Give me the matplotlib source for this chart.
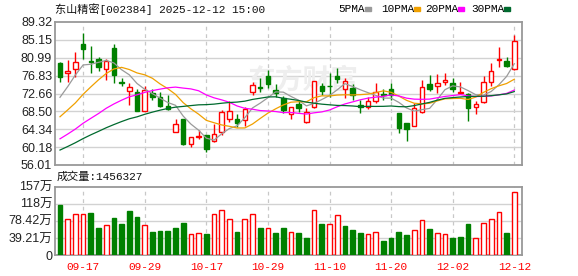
import numpy as np
import pandas as pd
import matplotlib
matplotlib.use('Agg')
import matplotlib.pyplot as plt
from matplotlib.patches import Rectangle

# trading days shown (2025)
dates = ['09-12', '09-15', '09-16', '09-17', '09-18', '09-19', '09-22', '09-23', '09-24', '09-25',
         '09-26', '09-29', '09-30', '10-09', '10-10', '10-13', '10-14', '10-15', '10-16', '10-17',
         '10-20', '10-21', '10-22', '10-23', '10-24', '10-27', '10-28', '10-29', '10-30', '10-31',
         '11-03', '11-04', '11-05', '11-06', '11-07', '11-10', '11-11', '11-12', '11-13', '11-14',
         '11-17', '11-18', '11-19', '11-20', '11-21', '11-24', '11-25', '11-26', '11-27', '11-28',
         '12-01', '12-02', '12-03', '12-04', '12-05', '12-08', '12-09', '12-10', '12-11', '12-12']

opens = [79.8, 77.4, 78.3, 84.2, 80.2, 80.6, 78.3, 83.3, 75.3, 73.2,
         73.1, 68.7, 72.7, 71.8, 69.8, 63.8, 66.7, 60.9, 62.5, 63.0,
         61.5, 63.8, 66.7, 66.7, 66.5, 73.1, 74.1, 76.7, 73.5, 71.6,
         67.9, 70.2, 66.1, 69.5, 74.4, 74.5, 76.7, 73.6, 74.0, 70.0,
         69.5, 70.9, 72.5, 73.6, 68.1, 65.7, 65.2, 68.4, 74.9, 74.3,
         75.3, 75.2, 72.7, 72.6, 69.6, 70.8, 75.3, 80.5, 80.2, 78.3]
highs = [80.0, 80.5, 82.3, 86.7, 83.7, 81.1, 80.6, 84.2, 76.2, 75.0,
         73.7, 74.3, 73.7, 72.9, 72.3, 66.7, 66.8, 62.6, 64.2, 63.1,
         65.6, 68.8, 70.9, 67.8, 69.6, 75.4, 76.2, 78.1, 74.9, 72.1,
         69.6, 71.2, 69.2, 75.6, 75.2, 77.4, 78.5, 76.2, 74.8, 71.2,
         71.9, 75.0, 73.6, 75.2, 68.2, 65.8, 70.4, 75.8, 77.0, 77.2,
         77.5, 76.2, 75.4, 72.7, 70.9, 76.7, 79.8, 83.4, 81.1, 86.3]
lows = [75.4, 75.4, 76.6, 80.7, 77.5, 78.0, 75.8, 75.0, 74.3, 70.0,
        68.6, 68.6, 71.2, 69.5, 68.8, 63.7, 60.7, 60.3, 62.0, 59.0,
        61.4, 63.0, 66.1, 64.9, 65.1, 72.3, 73.1, 73.9, 71.9, 68.1,
        66.7, 68.4, 65.9, 69.2, 72.3, 71.9, 75.0, 71.7, 71.2, 68.2,
        69.0, 70.5, 71.2, 71.2, 63.5, 61.7, 65.1, 68.2, 73.3, 72.7,
        74.7, 72.9, 72.6, 66.3, 67.9, 70.5, 74.3, 78.9, 78.9, 78.2]
closes = [76.6, 77.9, 79.9, 83.0, 80.0, 78.8, 80.2, 76.9, 75.1, 74.1,
          68.7, 73.5, 71.8, 69.8, 69.0, 65.5, 60.9, 62.5, 62.7, 59.7,
          63.2, 68.3, 68.6, 65.9, 69.1, 74.6, 73.9, 74.9, 72.7, 68.8,
          69.6, 69.4, 68.4, 75.6, 73.3, 74.3, 76.0, 75.6, 72.3, 69.5,
          70.9, 72.9, 72.4, 72.2, 64.6, 64.4, 69.2, 74.1, 73.7, 75.0,
          75.8, 73.6, 72.9, 69.4, 70.2, 75.4, 77.8, 80.7, 79.1, 85.0]
# closes before the window, only used for the moving averages
prior_closes = [53.0, 53.5, 54.2, 53.8, 54.5, 55.0, 54.6, 54.0, 54.8, 55.2,
                55.8, 56.5, 56.0, 57.2, 56.4, 55.6, 56.8, 57.5, 58.3,
                59.6, 62.0, 63.5, 63.0, 62.8,
                62.3, 65.5, 66.3, 71.35, 79.15]

# volume, in 万手
volumes = [114.8, 82.0, 94.1, 94.1, 97.1, 62.0, 68.1, 85.0, 71.2, 101.0,
           87.2, 68.1, 52.8, 55.1, 55.1, 61.3, 73.5, 47.5, 49.8, 47.5,
           93.4, 102.6, 82.0, 52.8, 82.0, 93.4, 62.0, 61.3, 50.5, 62.0,
           52.8, 50.5, 39.0, 102.6, 71.2, 70.4, 91.1, 66.6, 57.4, 50.5,
           47.5, 52.8, 32.1, 39.0, 52.8, 45.9, 57.4, 79.6, 59.7, 49.8,
           47.5, 39.0, 41.3, 71.2, 38.3, 72.7, 82.0, 98.7, 50.5, 145.6327]

ma_periods = [5, 10, 20, 30]
ma_names = ['5PMA', '10PMA', '20PMA', '30PMA']
ma_colors = ['#9a9a9a', '#f0a000', '#ff00ff', '#006a2e']

price_ticks = [56.01, 60.18, 64.34, 68.50, 72.66, 76.83, 80.99, 85.15, 89.32]
vol_ticks = [0, 39.21, 78.42, 117.63, 156.84]
vol_tick_labels = ['0', '39.21万', '78.42万', '118万', '157万']
date_labels = ['09-17', '09-29', '10-17', '10-29', '11-10', '11-20', '12-02', '12-12']

title = '东山精密[002384] 2025-12-12 15:00'
vol_title = '成交量:1456327'

RED = '#ff0000'
GREEN = '#008000'
GRID = '#d2d2d2'
FRAME = '#999999'
W, H = 578, 276

o = np.array(opens)
h = np.array(highs)
l = np.array(lows)
c = np.array(closes)
v = np.array(volumes)
x = np.arange(len(dates))

full = pd.Series(prior_closes + closes)
mas = [full.rolling(p).mean().to_numpy()[len(prior_closes):] for p in ma_periods]

fig = plt.figure(figsize=(W / 100, H / 100), dpi=100)
ax = fig.add_axes([55 / W, 1 - 165 / H, 467 / W, 143 / H])
axv = fig.add_axes([55 / W, 1 - 255 / H, 467 / W, 68.3 / H])

tick_pos = [dates.index(d) for d in date_labels]

for a in (ax, axv):
    a.set_xlim(-0.65, 60.0)
    for s in a.spines.values():
        s.set_color(FRAME)
        s.set_linewidth(1.3)
    a.tick_params(length=0, pad=2)
    for t in tick_pos:
        a.axvline(t, color='#c8c8c8', lw=0.9, ls=(0, (3, 3)), zorder=0)

# candles
up = c >= o
edge = np.where(up, RED, GREEN)
face = np.where(up, 'white', GREEN)
ax.vlines(x, l, h, colors=edge, lw=1, zorder=2)
body_bottom = np.minimum(o, c)
body_h = np.maximum(np.abs(c - o), 0.12)
ax.bar(x, body_h, 0.58, bottom=body_bottom, color=face, edgecolor=edge, lw=1, zorder=3)

for ma, col in zip(mas, ma_colors):
    ax.plot(x, ma, color=col, lw=0.9, zorder=4)

ax.set_ylim(price_ticks[0], price_ticks[-1])
ax.set_yticks(price_ticks)
ax.set_yticklabels(['%.2f' % t for t in price_ticks], family='Liberation Sans', fontsize=9, color='#222222')
ax.set_xticks([])
for t in price_ticks[1:-1]:
    ax.axhline(t, color=GRID, lw=1, zorder=0)

# watermark
ax.text(31.5, 75.6, '东方财富', family='Noto Sans CJK SC', fontsize=20, fontweight='bold',
        color='#eeeeee', ha='center', va='center', zorder=0)

# volume
prev = np.concatenate([[prior_closes[-1]], c[:-1]])
vup = c >= prev
vedge = np.where(vup, RED, GREEN)
vface = np.where(vup, 'white', GREEN)
axv.bar(x, v, 0.6, color=vface, edgecolor=vedge, lw=1, zorder=3)
axv.set_ylim(0, vol_ticks[-1])
axv.set_yticks(vol_ticks)
axv.set_yticklabels(vol_tick_labels, family=['Liberation Sans', 'Noto Sans CJK SC'], fontsize=9, color='#222222')
for t in vol_ticks[1:-1]:
    axv.axhline(t, color=GRID, lw=1, zorder=0)
axv.set_xticks(tick_pos)
axv.set_xticklabels(date_labels, family='Liberation Mono', fontsize=8, color=RED)
axv.tick_params(axis='x', pad=5)

# header texts
mixed = ['Liberation Mono', 'Noto Sans CJK SC']
fig.text(55 / W, 1 - 9 / H, title, family=mixed, fontsize=8, ha='left', va='center', color='#111111')
fig.text(57 / W, 1 - 177 / H, vol_title, family=mixed, fontsize=8, ha='left', va='center', color='#111111')

# legend
lx = [338, 381, 425, 471]
for name, col, px in zip(ma_names, ma_colors, lx):
    t = fig.text(px / W, 1 - 9 / H, name, family='Liberation Mono', fontsize=8, ha='left', va='center')
    n = len(name)
    sx = px + n * 5.9 + 3
    fig.patches.append(Rectangle((sx / W, 1 - 11 / H), 6 / W, 4 / H, transform=fig.transFigure,
                                 color=col, figure=fig))

fig.savefig('out.png', dpi=100)
